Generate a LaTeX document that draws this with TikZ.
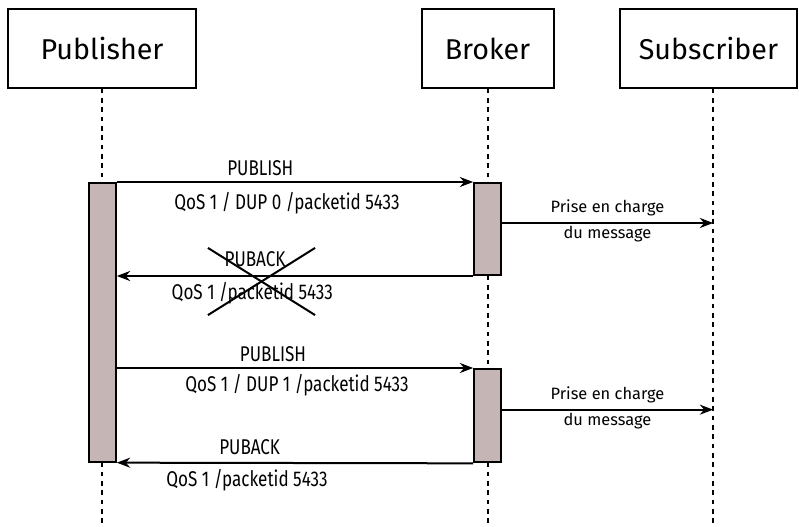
\documentclass[tikz,border=0pt]{standalone}
\usepackage{fontspec}
\setmainfont{Fira Sans}
\newfontfamily\lblfont[FakeStretch=0.8]{Fira Sans}
\usepackage{tikz}
\usetikzlibrary{positioning,arrows.meta,calc}
\definecolor{barcolor}{RGB}{197,182,181}

\begin{document}
\begin{tikzpicture}[
  x=0.75pt, y=-0.75pt,
  actor/.style={rectangle, draw, line width=1.5pt, minimum height=59pt, inner sep=0pt, font=\fontsize{21.5}{24}\selectfont},
  bar/.style={rectangle, draw, line width=1.5pt, fill=barcolor, minimum width=20pt, inner sep=0pt, anchor=north},
  life/.style={line width=1.5pt, dash pattern=on 3.5pt off 3.5pt},
  msg/.style={-{Stealth[length=10pt,width=7.5pt]}, line width=1.5pt},
  lbl/.style={font=\lblfont\fontsize{16}{19}\selectfont, inner sep=0pt},
  dlv/.style={font=\fontsize{12.3}{19.5}\selectfont, inner sep=0pt, align=center}
]
  \useasboundingbox (0,0) rectangle (799,527);

  % Actors
  \node[actor, minimum width=141pt] (pub) at (102,48.5) {Publisher};
  \node[actor, minimum width=99pt] (brk) at (487.5,48.5) {Broker};
  \node[actor, minimum width=133pt] (sub) at (708.5,48.5) {Subscriber};

  % Lifelines
  \draw[life] (pub.south) -- (pub.south |- 0,527);
  \draw[life] (brk.south) -- (brk.south |- 0,527);
  \coordinate[right=3.5pt of sub.south] (subtop);
  \draw[life] (subtop) -- (subtop |- 0,527);

  % Activation bars
  \node[bar, minimum height=209pt] (pubbar) at (102.5,182) {};
  \node[bar, minimum height=69pt] (brk1) at (487.5,182) {};
  \node[bar, minimum height=70pt] (brk2) at (487.5,368) {};

  % First exchange
  \draw[msg] (pubbar.north east) -- (brk1.north west)
    node[lbl, midway, xshift=-26pt, yshift=10.5pt] {PUBLISH}
    node[lbl, midway, xshift=-6pt, yshift=-15.5pt] {QoS 1 / DUP 0 /packetid 5433};
  \coordinate (deliv1) at ($(brk1.east)+(0,-6)$);
  \draw[msg] (deliv1) -- (deliv1 -| subtop)
    node[dlv, midway, yshift=1.5pt] {Prise en charge\\du message};
  \draw[msg] (brk1.south west) -- (pubbar.east |- brk1.south)
    node[lbl, midway, xshift=-30pt, yshift=13pt] {PUBACK}
    node[lbl, midway, xshift=-32pt, yshift=-12.5pt] {QoS 1 /packetid 5433};
  \node[minimum width=80pt, minimum height=50pt, inner sep=0pt] (lost) at (261.5,281.5) {};
  \draw[line width=1.5pt] (lost.north west) -- (lost.south east);
  \draw[line width=1.5pt] (lost.north east) -- (lost.south west);

  % Second exchange
  \draw[msg] (pubbar.east |- brk2.north) -- (brk2.north west)
    node[lbl, midway, xshift=-16.5pt, yshift=10.5pt] {PUBLISH}
    node[lbl, midway, xshift=1.5pt, yshift=-13pt] {QoS 1 / DUP 1 /packetid 5433};
  \coordinate (deliv2) at ($(brk2.east)+(0,-6)$);
  \draw[msg] (deliv2) -- (deliv2 -| subtop)
    node[dlv, midway, yshift=1.5pt] {Prise en charge\\du message};
  \draw[msg] (brk2.south west) -- (pubbar.south east)
    node[lbl, midway, xshift=-34pt, yshift=12pt] {PUBACK}
    node[lbl, midway, xshift=-36pt, yshift=-12.5pt] {QoS 1 /packetid 5433};
\end{tikzpicture}
\end{document}
